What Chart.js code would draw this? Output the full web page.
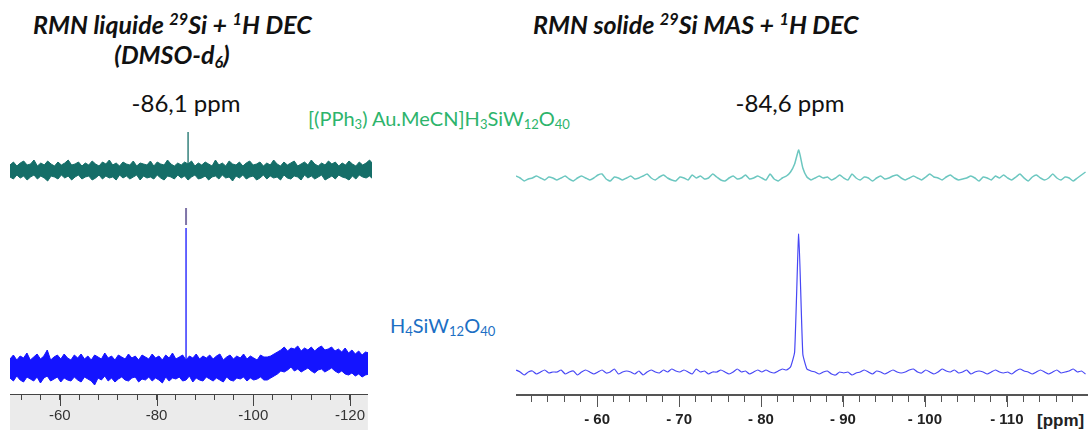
<!DOCTYPE html>
<html>
<head>
<meta charset="utf-8">
<script src="https://cdn.jsdelivr.net/npm/chart.js@4.4.1/dist/chart.umd.min.js"></script>
<style>
body { margin: 0; width: 1088px; height: 430px; position: relative; overflow: hidden; background: #fff; font-family: Lato, "Open Sans", sans-serif; }
.box { position: absolute; }
.t { position: absolute; white-space: nowrap; line-height: 1; color: #111; }
.title { font-size: 25px; font-weight: bold; font-style: italic; }
.ppm { font-size: 24px; }
.cpd { font-size: 20px; }
sup, sub { font-size: 65%; line-height: 0; }
sup { vertical-align: 0.55em; }
sub { vertical-align: -0.25em; }
</style>
</head>
<body>
<div class="t title" style="left:33px;top:11.5px">RMN liquide <sup>29</sup>Si + <sup>1</sup>H DEC</div>
<div class="t title" style="left:172px;top:42px;transform:translateX(-50%)">(DMSO-d<sub>6</sub>)</div>
<div class="t ppm" style="left:186px;top:91px;transform:translateX(-50%)">-86,1 ppm</div>
<div class="t title" style="left:533px;top:11.5px">RMN solide <sup>29</sup>Si MAS + <sup>1</sup>H DEC</div>
<div class="t ppm" style="left:790px;top:91px;transform:translateX(-50%)">-84,6 ppm</div>
<div class="t cpd" style="left:308px;top:108px;color:#2db46c">[(PPh<sub>3</sub>) Au.MeCN]H<sub>3</sub>SiW<sub>12</sub>O<sub>40</sub></div>
<div class="t cpd" style="left:390px;top:314.5px;color:#1c6fc4">H<sub>4</sub>SiW<sub>12</sub>O<sub>40</sub></div>
<div class="t" style="left:1037px;top:411px;font:bold 17px 'Liberation Sans', Arial, sans-serif;color:#222">[ppm]</div>

<div class="box" style="left:10px;top:110px;width:362px;height:80px"><canvas id="liqTop"></canvas></div>
<div class="box" style="left:10px;top:200px;width:362px;height:230px"><canvas id="liqBot"></canvas></div>
<div class="box" style="left:516px;top:120px;width:572px;height:80px"><canvas id="solTop"></canvas></div>
<div class="box" style="left:516px;top:200px;width:572px;height:230px"><canvas id="solBot"></canvas></div>

<script>
// ppm grids (first point, spacing)
const liquidStart = -49.7, liquidStep = 0.7;
const solidStart = -50.1, solidStep = 0.5;

// liquid 29Si: dense noise drawn as its upper / lower envelope
// [(PPh3)Au.MeCN]H3SiW12O40
const liquidComplexHigh = [
  5,8,4,7,9,5,6,10,4,7,5,9,6,4,8,5,7,10,5,6,
  8,4,7,5,9,6,4,8,6,10,5,7,4,8,6,5,9,4,7,6,
  5,9,4,8,6,5,10,6,4,7,5,8,6,9,4,7,5,8,6,4,
  10,5,7,4,9,6,5,8,4,7,9,5,6,8,4,7,5,10,6,4,
  8,5,7,9,4,6,8,5,10,6,4,7,5,9,6,8,4,7,5,9,
  6,4,8,5,7,10,6
];
const liquidComplexLow = [
  -7,-9,-5,-8,-6,-10,-7,-5,-9,-6,-8,-11,-6,-7,-9,-5,-8,-6,-10,-7,
  -5,-9,-7,-6,-10,-8,-5,-9,-6,-8,-7,-10,-5,-8,-6,-9,-7,-5,-10,-6,
  -8,-7,-9,-5,-8,-10,-6,-7,-9,-5,-8,-6,-10,-7,-5,-9,-8,-6,-10,-7,
  -6,-9,-5,-8,-7,-11,-6,-8,-5,-9,-7,-6,-10,-8,-5,-9,-6,-8,-7,-10,
  -5,-8,-9,-6,-7,-10,-5,-8,-6,-9,-7,-5,-10,-8,-6,-9,-5,-7,-8,-10,
  -6,-9,-5,-7,-8,-6,-9
];
// H4SiW12O40
const liquidAcidHigh = [
  9,13,8,12,10,15,8,11,14,9,12,18,8,11,13,9,14,10,8,13,
  10,14,9,12,8,13,11,9,15,10,12,8,13,11,9,14,10,12,8,13,
  11,9,14,10,12,8,13,10,15,9,11,13,8,12,10,14,9,12,10,13,
  9,12,14,8,11,13,9,12,10,14,9,12,10,8,13,11,11,12,14,16,
  18,21,17,20,19,22,17,20,18,21,17,20,22,18,19,21,17,19,16,20,
  15,18,14,17,13,16,15
];
const liquidAcidLow = [
  -10,-13,-8,-12,-14,-9,-11,-13,-9,-15,-10,-8,-13,-11,-9,-14,-10,-12,-13,-9,
  -12,-14,-9,-11,-13,-17,-10,-12,-8,-13,-10,-14,-11,-9,-12,-13,-10,-9,-14,-11,
  -12,-9,-13,-10,-12,-15,-9,-13,-10,-11,-9,-13,-12,-8,-14,-10,-12,-13,-9,-11,
  -13,-10,-12,-14,-9,-12,-13,-10,-11,-9,-13,-10,-12,-11,-9,-12,-12,-10,-8,-6,
  -3,-4,-2,1,-3,-1,-4,-2,0,-3,-5,-2,-1,-4,-2,0,-3,-5,-3,-6,
  -7,-5,-8,-6,-9,-7,-6
];
// narrow lines at -86.1 ppm (foot, top) and the short residual trace above the acid line
const liquidPeakPpm = -86.1;
const liquidComplexPeak = [0, 38];
const liquidAcidPeak = [0, 140];
const liquidMarkY = [143, 160];

// solid 29Si MAS, [(PPh3)Au.MeCN]H3SiW12O40, peak -84.6
const solidComplex = [
  2,0,-3,-1,0,2,0,-2,1,0,-2,0,2,-1,-3,0,2,0,-2,0,
  3,4,-1,-3,1,0,-2,0,2,-1,0,2,4,0,-2,1,3,0,-2,-3,
  1,0,-2,3,0,2,-1,0,4,1,-2,-3,0,2,-1,0,3,-1,0,2,
  0,-2,4,-1,-3,0,2,6,14,28,10,1,-2,0,2,0,1,-2,0,3,
  0,-2,4,0,-2,1,0,-3,0,2,-1,0,2,3,0,-2,0,2,0,-2,
  1,4,1,0,-2,1,3,0,-2,-1,0,2,0,-3,1,0,-2,2,0,3,
  0,-2,1,4,0,-3,1,3,0,-2,0,4,0,-2,1,0,-3,0,3,6
];
// solid 29Si MAS, H4SiW12O40
const solidAcid = [
  2,0,-3,0,1,-2,0,2,-1,0,0,2,-2,0,1,-3,0,2,0,-2,
  0,2,-1,0,3,-2,0,1,0,-2,1,-3,0,2,0,-1,2,0,3,1,
  0,2,0,-2,3,0,1,-2,0,0,2,0,-2,0,3,0,1,-2,0,2,
  0,2,0,-1,1,3,2,5,20,138,18,3,1,0,-2,0,1,-2,-3,0,
  -1,0,-3,-1,0,2,0,-2,1,0,-2,0,2,0,-1,0,2,3,0,-1,
  2,0,-2,0,3,1,0,2,-1,0,2,-2,0,1,0,-2,0,2,0,-1,
  0,-2,1,3,1,0,-2,0,2,0,-2,0,2,-1,0,1,3,0,1,-2
];

const liquidTickLabels = [-60, -80, -100, -120];
const solidTickLabels = [-60, -70, -80, -90, -100, -110];

function toPoints(start, step, values) {
  return values.map((v, i) => ({ x: start - i * step, y: v }));
}
function atPpm(ppm, values) {
  return values.map(v => ({ x: ppm, y: v }));
}

const axisDecor = {
  id: 'axisDecor',
  beforeDraw(chart, args, opts) {
    if (!opts.band) return;
    const { ctx, chartArea } = chart;
    ctx.save();
    ctx.fillStyle = opts.band;
    ctx.fillRect(chartArea.left, chartArea.bottom, chartArea.right - chartArea.left, chart.height - chartArea.bottom);
    ctx.restore();
  },
  afterDraw(chart, args, opts) {
    if (!opts.major) return;
    const x = chart.scales.x, ctx = chart.ctx;
    ctx.save();
    ctx.strokeStyle = opts.color;
    ctx.lineWidth = 1;
    opts.major.forEach(v => {
      const px = Math.round(x.getPixelForValue(v)) + 0.5;
      ctx.beginPath();
      ctx.moveTo(px, x.top);
      ctx.lineTo(px, x.top + opts.length);
      ctx.stroke();
    });
    ctx.restore();
  }
};
Chart.register(axisDecor);

function spectrum(id, o) {
  const datasets = o.series.map(s => ({
    data: s.data, borderColor: s.color, borderWidth: s.width,
    backgroundColor: s.color, fill: s.fill || false,
    pointRadius: 0, tension: s.tension || 0
  }));
  const x = { type: 'linear', reverse: true, min: o.min, max: o.max, display: !!o.axis };
  if (o.axis) {
    Object.assign(x, {
      afterFit: s => { s.height = o.axis.height; },
      border: { display: true, color: o.axis.color, width: o.axis.lineWidth },
      grid: { drawOnChartArea: false, drawTicks: true, tickLength: o.axis.tick, color: o.axis.color, tickColor: o.axis.color },
      ticks: {
        stepSize: o.axis.step, autoSkip: false, maxRotation: 0, includeBounds: false,
        padding: o.axis.pad, color: o.axis.labelColor, font: o.axis.font,
        callback: v => o.axis.labels.includes(Math.round(v)) ? o.axis.fmt(Math.round(v)) : ''
      }
    });
  }
  return new Chart(document.getElementById(id), {
    type: 'line',
    data: { datasets },
    options: {
      animation: false, responsive: true, maintainAspectRatio: false,
      layout: { padding: 0 },
      plugins: {
        legend: { display: false }, tooltip: { enabled: false },
        axisDecor: o.axis ? { band: o.axis.band, major: o.axis.labels, length: o.axis.major, color: o.axis.color } : {}
      },
      scales: { x, y: { display: false, min: o.yMin, max: o.yMax } }
    }
  });
}

const teal = '#156e68', blue = '#1414ff';
spectrum('liqTop', {
  min: -123.7, max: -49.7, yMin: -20, yMax: 60,
  series: [
    { data: toPoints(liquidStart, liquidStep, liquidComplexHigh), color: teal, width: 1, fill: '+1' },
    { data: toPoints(liquidStart, liquidStep, liquidComplexLow), color: teal, width: 1 },
    { data: atPpm(liquidPeakPpm, liquidComplexPeak), color: teal, width: 1.3 }
  ]
});
spectrum('liqBot', {
  min: -123.7, max: -49.7, yMin: -26, yMax: 168,
  series: [
    { data: toPoints(liquidStart, liquidStep, liquidAcidHigh), color: blue, width: 1, fill: '+1' },
    { data: toPoints(liquidStart, liquidStep, liquidAcidLow), color: blue, width: 1 },
    { data: atPpm(liquidPeakPpm, liquidAcidPeak), color: blue, width: 1.3 },
    { data: atPpm(liquidPeakPpm, liquidMarkY), color: '#7f74a8', width: 2 }
  ],
  axis: {
    height: 36, color: '#444', lineWidth: 1, tick: 6, major: 12, step: 4, pad: 7,
    labels: liquidTickLabels, fmt: v => String(v), labelColor: '#333',
    font: { family: "'Liberation Sans', Arial, sans-serif", size: 15 }, band: '#ebebeb'
  }
});
spectrum('solTop', {
  min: -119.9, max: -50.1, yMin: -22, yMax: 58,
  series: [{ data: toPoints(solidStart, solidStep, solidComplex), color: '#6cc7c0', width: 1.5, tension: 0.15 }]
});
spectrum('solBot', {
  min: -119.9, max: -50.1, yMin: -23, yMax: 172,
  series: [{ data: toPoints(solidStart, solidStep, solidAcid), color: '#4747f5', width: 1.2, tension: 0.15 }],
  axis: {
    height: 35, color: '#555', lineWidth: 2, tick: 7, major: 12, step: 2, pad: 9,
    labels: solidTickLabels, fmt: v => '- ' + Math.abs(v), labelColor: '#222',
    font: { family: "'Liberation Sans', Arial, sans-serif", size: 15, weight: 'bold' }
  }
});
</script>
</body>
</html>
